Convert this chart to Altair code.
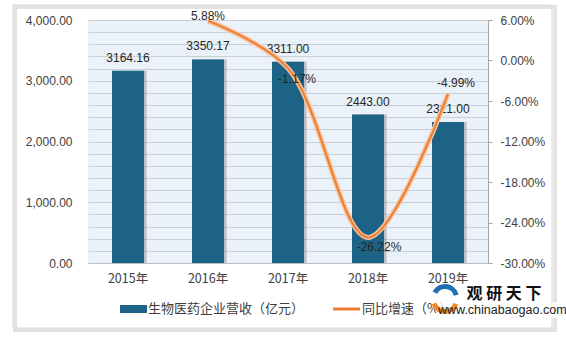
import altair as alt
import pandas as pd

years = ["2015年", "2016年", "2017年", "2018年", "2019年"]
revenue = [3164.16, 3350.17, 3311.00, 2443.00, 2321.00]
growth = [None, 0.0588, -0.0117, -0.2622, -0.0499]

left_ticks = list(range(0, 4001, 200))
right_ticks = [-0.30, -0.24, -0.18, -0.12, -0.06, 0.0, 0.06]

FONT = "Liberation Sans, Noto Sans CJK SC"
CJK = "Noto Sans CJK SC, Liberation Sans"
BAR = "#1C6386"
ORANGE = "#ED7D31"

df = pd.DataFrame({
    "year": years,
    "revenue": revenue,
    "growth": growth,
})
df["rev_label"] = [f"{v:.2f}" for v in revenue]
df["g_label"] = [f"{v * 100:.2f}%" if v is not None else "" for v in growth]

x_enc = alt.X(
    "year:N", sort=years, title=None,
    scale=alt.Scale(paddingInner=0.6, paddingOuter=0.3),
    axis=alt.Axis(labelAngle=0, ticks=False, domain=True, domainColor="#BFBFBF",
                  labelFont=CJK, labelFontSize=12.5, labelColor="#404040",
                  labelPadding=9, grid=False),
)

y_left = alt.Y(
    "revenue:Q", title=None,
    scale=alt.Scale(domain=[0, 4000], nice=False),
    axis=alt.Axis(values=left_ticks, grid=True, gridColor="#C9D0D8", gridWidth=1,
                  ticks=False, domain=False, labelFont=FONT, labelFontSize=12,
                  labelColor="#404040", labelPadding=16,
                  labelExpr="datum.value % 1000 == 0 ? format(datum.value, ',.2f') : ''"),
)

base = alt.Chart(df)

shadow = base.mark_bar(color="#7F7F7F", opacity=0.45, xOffset=2.5).encode(x=x_enc, y=y_left)
bars = base.mark_bar(color=BAR).encode(x=x_enc, y=y_left)
bar_text = base.mark_text(font=FONT, fontSize=12, color="#262626", dy=-13, baseline="middle").encode(
    x=x_enc, y=y_left, text="rev_label:N")
bar_layer = alt.layer(shadow, bars, bar_text)

y_right = alt.Y(
    "growth:Q", title=None,
    scale=alt.Scale(domain=[-0.30, 0.06], nice=False, zero=False),
    axis=alt.Axis(orient="right", values=right_ticks, grid=False, ticks=True, tickSize=4,
                  tickColor="#A6A6A6", domain=True, domainColor="#A6A6A6",
                  labelFont=FONT, labelFontSize=12, labelColor="#404040", labelPadding=8,
                  labelExpr="replace(format(datum.value, '.2%'), '\u2212', '-')"),
)

lbase = base.transform_filter("datum.growth != null")
glow = lbase.mark_line(color="#F6C29E", strokeWidth=5, interpolate="catmull-rom").encode(x=x_enc, y=y_right)
line = lbase.mark_line(color=ORANGE, strokeWidth=2, interpolate="catmull-rom").encode(x=x_enc, y=y_right)


def glabel(year, dx, dy):
    return lbase.transform_filter(alt.datum.year == year).mark_text(
        font=FONT, fontSize=12, color="#262626", dx=dx, dy=dy, baseline="middle"
    ).encode(x=x_enc, y=y_right, text="g_label:N")


line_layer = alt.layer(
    glow, line,
    glabel("2016年", 0, -5),
    glabel("2017年", 9, 11),
    glabel("2018年", 11, 10),
    glabel("2019年", 8, -11),
)

one = alt.Chart(pd.DataFrame({"a": [0]}))
frame_shadow = one.mark_rect(fill=None, stroke="#D0D0D0", strokeWidth=4, opacity=0.6).encode(
    x=alt.value(-73), x2=alt.value(467), y=alt.value(-13), y2=alt.value(310))
frame = one.mark_rect(fill=None, stroke="#D9D9D9", strokeWidth=1).encode(
    x=alt.value(-75), x2=alt.value(464), y=alt.value(-15), y2=alt.value(308))

leg_swatch = one.mark_rect(color=BAR).encode(
    x=alt.value(32), x2=alt.value(59), y=alt.value(285), y2=alt.value(293))
leg_text1 = one.mark_text(font=CJK, fontSize=13, color="#404040", align="left", baseline="middle").encode(
    x=alt.value(60), y=alt.value(289), text=alt.value("生物医药企业营收（亿元）"))
leg_line = one.mark_rule(color=ORANGE, strokeWidth=3).encode(
    x=alt.value(245), x2=alt.value(272), y=alt.value(289))
leg_text2 = one.mark_text(font=CJK, fontSize=13, color="#404040", align="left", baseline="middle").encode(
    x=alt.value(274), y=alt.value(289), text=alt.value("同比增速（%）"))

wm_bg = one.mark_rect(color="white", opacity=0.85).encode(
    x=alt.value(348), x2=alt.value(474), y=alt.value(282), y2=alt.value(298))
logo_blue = one.mark_arc(color="#1F6FB5", radius=14, radius2=9, theta=5.2, theta2=7.6).encode(
    x=alt.value(357), y=alt.value(278))
logo_orange = one.mark_arc(color="#F08A24", radius=14, radius2=9, theta=1.9, theta2=4.4).encode(
    x=alt.value(357), y=alt.value(280))
wm_title = one.mark_text(font="Noto Sans CJK SC", fontSize=16, fontWeight="bold", color="#111111",
                         align="center", baseline="middle").encode(
    x=alt.value(416), y=alt.value(274), text=alt.value("观 研 天 下"))
wm_url = one.mark_text(font="Liberation Sans", fontSize=12.5, color="#222222",
                       align="left", baseline="middle").encode(
    x=alt.value(350), y=alt.value(290), text=alt.value("www.chinabaogao.com"))

chart = alt.layer(
    frame_shadow, frame, bar_layer, line_layer,
    leg_swatch, leg_text1, leg_line, leg_text2,
    wm_bg, logo_blue, logo_orange, wm_title, wm_url,
).resolve_scale(y="independent").properties(
    width=400, height=243,
    padding={"left": 88, "top": 20, "right": 78, "bottom": 76},
    autosize=alt.AutoSizeParams(type="none"),
    background="white",
).configure_view(fill="#EBF1F8", stroke=None)

chart.save("out.html", embed_options={"renderer": "svg", "actions": False})
